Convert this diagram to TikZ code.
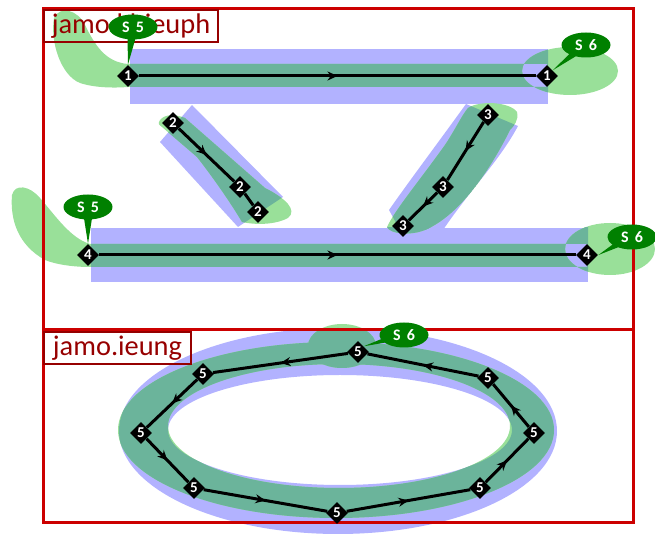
\documentclass[tikz,border=0pt]{standalone}
\usepackage{fontspec}
\setsansfont{Carlito}
\usepackage{tikz}
\usetikzlibrary{arrows.meta,decorations.markings,shapes.geometric,shapes.callouts}
\definecolor{bandblue}{RGB}{178,178,255}
\definecolor{blobgreen}{RGB}{153,224,153}
\definecolor{mixgreen}{RGB}{107,180,155}
\definecolor{tagreen}{RGB}{0,128,0}
\definecolor{frred}{RGB}{204,0,0}
\definecolor{lbred}{RGB}{150,0,0}
\tikzset{
  pt/.style={diamond,fill=black,inner sep=0pt,minimum size=11pt,text=white,font=\sffamily\bfseries\fontsize{7.5}{7.5}\selectfont},
  seg/.style={line width=1.5pt},
  mid/.style={postaction={decorate},decoration={markings,mark=at position #1 with {\arrow{Stealth[length=5pt,width=4.5pt,inset=1.6pt]}}}},
  mid/.default=0.5,
  tag/.style={ellipse callout,fill=tagreen,text=white,inner sep=0pt,minimum width=24.5pt,minimum height=12.5pt,callout pointer arc=18,font=\sffamily\bfseries\fontsize{8}{8}\selectfont},
  frm/.style={draw=frred,line width=1.5pt},
  lbl/.style={draw=lbred,line width=1pt,text=lbred,anchor=north west,inner sep=0pt,minimum height=16pt,font=\sffamily\fontsize{14.2}{15}\selectfont}
}
% band outlines
\newcommand{\bandA}{(130,49) rectangle (548,104)}
\newcommand{\bandB}{(192,105) -- (283,197) -- (238,227) -- (160,142) -- cycle}
\newcommand{\bandC}{(466,104) .. controls (440,140) and (410,180) .. (389,210) -- (400,230) -- (443,230)
  .. controls (470,190) and (500,160) .. (518,126) -- cycle}
\newcommand{\bandD}{(91,228) rectangle (588,282)}
\newcommand{\bandE}{(338,431) ellipse [x radius=219,y radius=103] (340,430) ellipse [x radius=172,y radius=55]}
% green outlines
\newcommand{\blobA}{(128,64) .. controls (105,62) and (95,45) .. (85,25) .. controls (78,10) and (60,5) .. (54,18)
  .. controls (50,40) and (60,75) .. (80,83) .. controls (95,88) and (115,88) .. (128,87) -- (547,87) -- (547,64) -- cycle
  (570,71) ellipse [x radius=48,y radius=24]}
\newcommand{\blobB}{(160,120) .. controls (165,114) and (175,114) .. (185,118) -- (265,188)
  .. controls (285,198) and (298,210) .. (288,218) .. controls (275,225) and (255,225) .. (242,222)
  .. controls (232,205) and (215,180) .. (197,157) -- (162,127) .. controls (158,124) .. cycle}
\newcommand{\blobC}{(468,108) .. controls (480,100) and (510,102) .. (517,112) .. controls (519,120) and (514,126) .. (510,130)
  .. controls (490,170) and (460,215) .. (425,230) .. controls (410,236) and (390,234) .. (387,227)
  .. controls (395,210) and (420,180) .. (445,145) .. controls (455,130) and (462,115) .. (468,108) -- cycle}
\newcommand{\blobD}{(90,244) .. controls (70,238) and (55,215) .. (40,198) .. controls (30,186) and (15,183) .. (12,195)
  .. controls (10,220) and (18,245) .. (45,260) .. controls (60,266) and (80,267) .. (90,267) -- (587,267) -- (587,244) -- cycle
  (610,249) ellipse [x radius=45,y radius=26]}
\newcommand{\blobE}{(336,430) ellipse [x radius=218,y radius=88] (339,426) ellipse [x radius=171,y radius=62]}
\newcommand{\blobF}{(342,346) ellipse [x radius=34,y radius=22]}

\begin{document}
\begin{tikzpicture}[x=0.5pt,y=-0.5pt]
\useasboundingbox (0,0) rectangle (655,534);
% blue bands
\fill[bandblue] \bandA; \fill[bandblue] \bandB; \fill[bandblue] \bandC; \fill[bandblue] \bandD;
\fill[bandblue,even odd rule] \bandE;
% green, light outside the bands
\fill[blobgreen] \blobA; \fill[blobgreen] \blobB; \fill[blobgreen] \blobC; \fill[blobgreen] \blobD;
\fill[blobgreen,even odd rule] \blobE; \fill[blobgreen] \blobF;
% green over the bands
\begin{scope} \clip \bandA; \fill[mixgreen] \blobA; \end{scope}
\begin{scope} \clip \bandB; \fill[mixgreen] \blobB; \end{scope}
\begin{scope} \clip \bandC; \fill[mixgreen] \blobC; \end{scope}
\begin{scope} \clip \bandD; \fill[mixgreen] \blobD; \fill[mixgreen] \blobC; \end{scope}
\begin{scope}[even odd rule] \clip \bandE; \fill[mixgreen] \blobE; \fill[mixgreen] \blobF; \end{scope}
% frames and labels
\draw[frm] (43,9) rectangle (633,330);
\draw[frm] (43,330) rectangle (633,523);
\node[lbl,minimum width=87pt] (khlbl) at (43,9) {jamo.khieuph};
\node[lbl,minimum width=73.5pt] (iglbl) at (43,331) {jamo.ieung};
% points
\node[pt] (k1a) at (128,76) {1}; \node[pt] (k1b) at (547,76) {1};
\node[pt] (k2a) at (173,123) {2}; \node[pt] (k2b) at (240,187) {2}; \node[pt] (k2c) at (258,212) {2};
\node[pt] (k3a) at (488,115) {3}; \node[pt] (k3b) at (443,187) {3}; \node[pt] (k3c) at (403,226) {3};
\node[pt] (k4a) at (88,255) {4}; \node[pt] (k4b) at (587,255) {4};
\foreach \n/\x/\y in {1/358/352,2/203/374,3/141/433,4/194/488,5/337/513,6/480/488,7/534/433,8/488/378}
  \node[pt] (r\n) at (\x,\y) {5};
% strokes
\draw[seg,mid] (k1a) -- (k1b);
\draw[seg,mid] (k2a) -- (k2b); \draw[seg] (k2b) -- (k2c);
\draw[seg,mid] (k3a) -- (k3b); \draw[seg,mid] (k3b) -- (k3c);
\draw[seg,mid] (k4a) -- (k4b);
\foreach \a/\b in {1/2,2/3,3/4,4/5,5/6,6/7,7/8,8/1}
  \draw[seg,mid] (r\a) -- (r\b);
% tags
\node[tag,callout absolute pointer={(k1a.north)}] (t1) at (133,27) {S \,5};
\node[tag,callout absolute pointer={(k1b.north east)}] (t2) at (586,45) {S \,6};
\node[tag,callout absolute pointer={(k4a.north)}] (t3) at (88,207) {S \,5};
\node[tag,callout absolute pointer={(k4b.east)}] (t4) at (632,237) {S \,6};
\node[tag,callout absolute pointer={(r1.north east)}] (t5) at (404,335) {S \,6};
\end{tikzpicture}
\end{document}
